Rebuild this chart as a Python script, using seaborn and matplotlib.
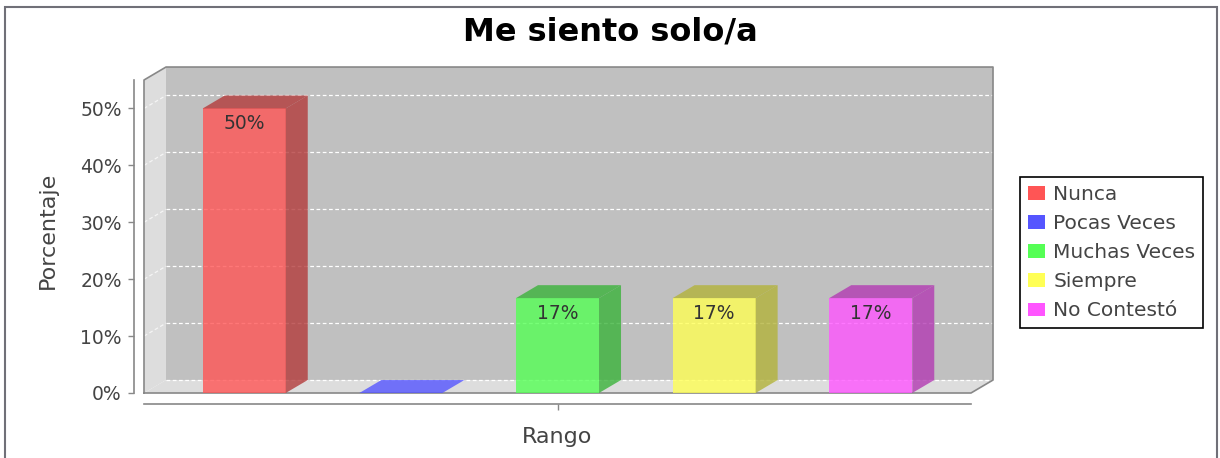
import numpy as np
import matplotlib.pyplot as plt
import seaborn as sns
from matplotlib.patches import Polygon, Patch, Rectangle
from matplotlib.colors import to_rgb
from matplotlib.ticker import FuncFormatter

# datos
categorias = ["Nunca", "Pocas Veces", "Muchas Veces", "Siempre", "No Contestó"]
porcentajes = [50.0, 0.0, 16.67, 16.67, 16.67]
colores = ["#FF5555", "#5555FF", "#55FF55", "#FFFF55", "#FF55FF"]
ticks_y = [0, 10, 20, 30, 40, 50]
titulo = "Me siento solo/a"
eje_x = "Rango"
eje_y = "Porcentaje"

# estilo "3D" tipo JFreeChart
DX, DY = 0.1405, 2.28
XLIM, YLIM = (-0.64, 4.64), (0, 55)
WALL, FLOOR, EDGE, TXT = "#C0C0C0", "#DDDDDD", "#888888", "#444444"
ALPHA = 0.8


def darker(c, f=0.7):
    return tuple(v * f for v in to_rgb(c))


def poly(ax, pts, color, z, **kw):
    ax.add_patch(Polygon(pts, closed=True, facecolor=color, edgecolor="none",
                         zorder=z, clip_on=False, **kw))


sns.set_theme(style="white")
plt.rcParams["font.family"] = ["DejaVu Sans"]

fig = plt.figure(figsize=(12.2, 4.58), dpi=100)
ax = fig.add_axes([144 / 1220, 65 / 458, 827 / 1220, 313 / 458])
ax.set_facecolor("none")

x0, x1 = XLIM
y0, y1 = YLIM
# paredes y suelo
poly(ax, [(x0 + DX, DY), (x1 + DX, DY), (x1 + DX, y1 + DY), (x0 + DX, y1 + DY)], WALL, 0)
poly(ax, [(x0, 0), (x0 + DX, DY), (x0 + DX, y1 + DY), (x0, y1)], FLOOR, 0)
poly(ax, [(x0, 0), (x1, 0), (x1 + DX, DY), (x0 + DX, DY)], FLOOR, 0)

# rejilla
for t in ticks_y:
    ax.plot([x0 + DX, x1 + DX], [t + DY, t + DY], color="white", lw=0.9,
            ls=(0, (3, 2)), zorder=0.5, clip_on=False)
    if t > 0:
        ax.plot([x0, x0 + DX], [t, t + DY], color="white", lw=0.9, alpha=0.7,
                ls=(0, (3, 2)), zorder=0.5, clip_on=False)

# contorno
ax.plot([x0, x0, x0 + DX, x1 + DX, x1 + DX, x1, x0],
        [0, y1, y1 + DY, y1 + DY, DY, 0, 0],
        color=EDGE, lw=1.2, zorder=0.6, clip_on=False)

sns.barplot(x=categorias, y=porcentajes, hue=categorias, palette=colores,
            width=0.53, saturation=1, alpha=ALPHA, linewidth=0, legend=False,
            ax=ax, zorder=2)

barras = [b for cont in ax.containers for b in cont]
for bar, c, v in zip(barras, colores, porcentajes):
    bx, bw, bh = bar.get_x(), bar.get_width(), bar.get_height()
    top = [(bx, bh), (bx + DX, bh + DY), (bx + bw + DX, bh + DY), (bx + bw, bh)]
    if bh > 0:
        poly(ax, [(bx + bw, 0), (bx + bw + DX, DY), (bx + bw + DX, bh + DY),
                  (bx + bw, bh)], darker(c), 2, alpha=ALPHA)
        poly(ax, top, darker(c), 2, alpha=ALPHA)
        ax.annotate(f"{v:.0f}%", (bx + bw / 2, bh), xytext=(0, -11),
                    textcoords="offset points", ha="center", va="center",
                    fontsize=13.5, color="#333333", zorder=3)
    else:
        poly(ax, top, c, 2, alpha=ALPHA)

ax.set_xlim(XLIM)
ax.set_ylim(YLIM)
ax.set_yticks(ticks_y)
ax.yaxis.set_major_formatter(FuncFormatter(lambda v, _: f"{v:.0f}%"))
ax.set_xticks([2])
ax.set_xticklabels([""])

for s in ["top", "right"]:
    ax.spines[s].set_visible(False)
ax.spines["left"].set_position(("outward", 7))
ax.spines["bottom"].set_position(("outward", 8))
for s in ["left", "bottom"]:
    ax.spines[s].set_color(EDGE)
    ax.spines[s].set_linewidth(1.2)
ax.tick_params(axis="both", direction="out", length=4, width=1, color=EDGE,
               labelsize=13.5, labelcolor=TXT, left=True, bottom=True, pad=5)

ax.set_ylabel(eje_y, fontsize=16, color=TXT)
ax.yaxis.label.set_va("center")
ax.yaxis.set_label_coords(-0.116, 0.52)
ax.set_xlabel(eje_x, fontsize=16, color=TXT)
ax.xaxis.label.set_va("center")
ax.xaxis.set_label_coords(0.5, -0.14)

fig.text(0.5, 1 - 32 / 458, titulo, ha="center", va="center", fontsize=23,
         fontweight="bold", color="black")

handles = [Patch(facecolor=c, edgecolor="none", label=n)
           for n, c in zip(categorias, colores)]
leg = fig.legend(handles=handles, loc="upper left",
                 bbox_to_anchor=(1020 / 1220, 1 - 177 / 458), fontsize=14.5,
                 frameon=True, fancybox=False, edgecolor="black", framealpha=1,
                 borderaxespad=0, borderpad=0.4, labelspacing=0.5,
                 handlelength=0.85, handleheight=0.65, handletextpad=0.4)
leg.get_frame().set_linewidth(1.2)
for t in leg.get_texts():
    t.set_color(TXT)

# marco exterior
fig.patches.append(Rectangle((5 / 1220, -0.1), 1212 / 1220, 1.1 - 7 / 458,
                             transform=fig.transFigure, fill=False,
                             edgecolor="#707078", lw=1.5))

fig.savefig("out.png", dpi=100)
